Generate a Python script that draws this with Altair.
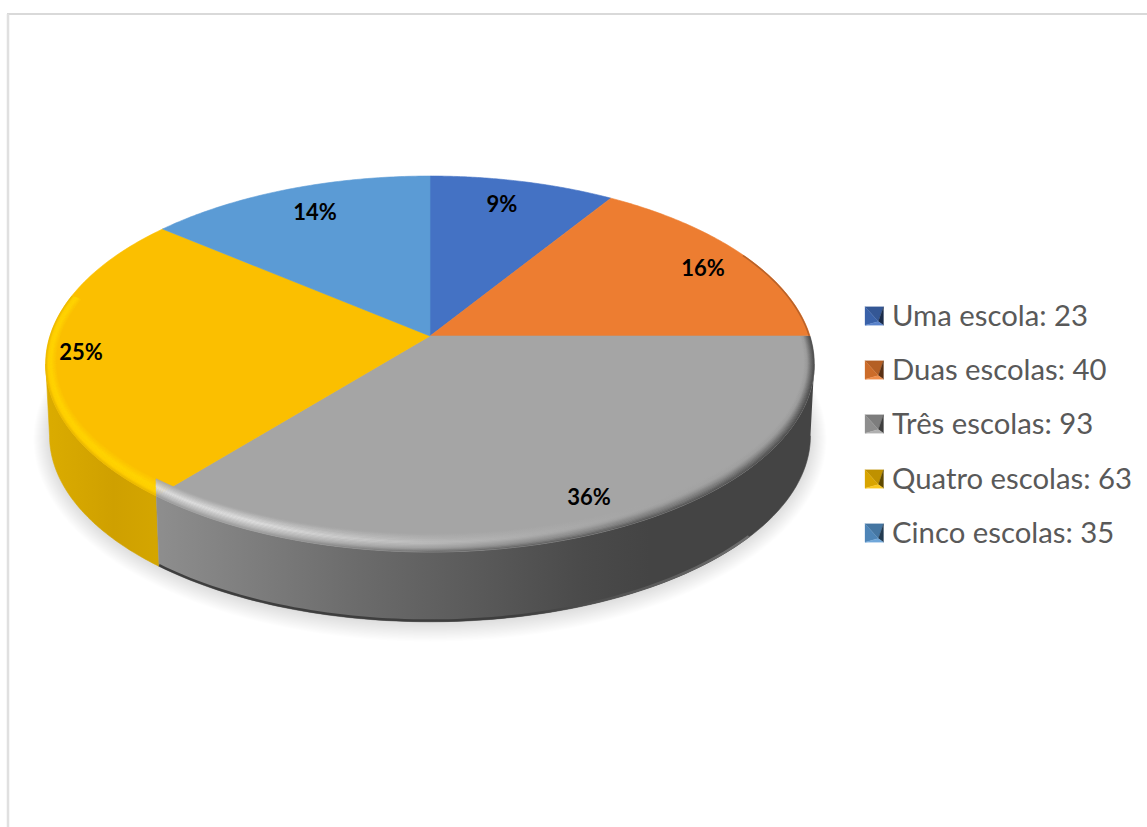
import altair as alt
import numpy as np
import pandas as pd

# Chart values
categories = ["Uma escola", "Duas escolas", "Três escolas", "Quatro escolas", "Cinco escolas"]
counts = [23, 40, 93, 63, 35]
percents = [9, 16, 36, 25, 14]
colors = ["#4472C4", "#ED7D31", "#A5A5A5", "#FBBF00", "#5B9BD5"]

# Perspective disc geometry
W, H = 1147, 827
CX, CY = 430.0, 336.0
RX, RY = 380.0, 183.8
TILT = 0.149
WALL = 72.0
BASE_SCALE = 0.99
# Angles at which the disc outline is widest
WIDEST = np.degrees(np.arccos(-TILT))

XS = alt.Scale(domain=[0, W], range=[0, W], nice=False, zero=False)
YS = alt.Scale(domain=[H, 0], range=[H, 0], nice=False, zero=False)


def rim(deg, sx=1.0, sy=1.0, drop=0.0, scale=1.0, grow=0.0):
    """Project a clockwise angle from 12 o'clock onto the tilted disc."""
    t = np.radians(np.asarray(deg, dtype=float))
    d = 1 + TILT * np.cos(t)
    x = CX + (RX * scale * sx * np.sin(t) + grow * np.sin(t)) / d
    y = CY + drop - (RY * scale * sy * np.cos(t) + grow * np.cos(t)) / d
    return x, y


def poly(xs, ys, fill, opacity=1.0, seam=0.6):
    df = pd.DataFrame({"px": xs, "py": ys})
    df["i"] = np.arange(len(df))
    kw = dict(fill=fill, fillOpacity=opacity, clip=False)
    if seam > 0:
        kw.update(stroke=fill, strokeWidth=seam)
    else:
        kw.update(stroke="transparent", strokeWidth=0)
    return alt.Chart(df).mark_line(**kw).encode(
        x=alt.X("px:Q", scale=XS, axis=None),
        y=alt.Y("py:Q", scale=YS, axis=None),
        order=alt.Order("i:Q"),
    )


def stroke_line(xs, ys, paint, width):
    df = pd.DataFrame({"px": xs, "py": ys})
    df["i"] = np.arange(len(df))
    return alt.Chart(df).mark_line(stroke=paint, strokeWidth=width, clip=False).encode(
        x=alt.X("px:Q", scale=XS, axis=None),
        y=alt.Y("py:Q", scale=YS, axis=None),
        order=alt.Order("i:Q"),
    )


def hgrad(stops):
    return alt.Gradient(
        gradient="linear", x1=0, x2=1, y1=0, y2=0,
        stops=[alt.GradientStop(offset=o, color=c) for o, c in stops],
    )


def mix(a, b, f):
    pa = [int(a[i:i + 2], 16) for i in (1, 3, 5)]
    pb = [int(b[i:i + 2], 16) for i in (1, 3, 5)]
    return "#" + "".join(f"{round(p + (q - p) * f):02x}" for p, q in zip(pa, pb))


def ramp(knots, v):
    for (v0, c0), (v1, c1) in zip(knots, knots[1:]):
        if v <= v1:
            return mix(c0, c1, (v - v0) / (v1 - v0))
    return knots[-1][1]


edges = np.concatenate([[0], np.cumsum(percents)]) * 3.6
layers = []

# Soft shadow under the disc
full = np.linspace(0, 360, 181)
for g in range(1, 17):
    sx_, sy_ = rim(full, drop=WALL, scale=BASE_SCALE, grow=g)
    layers.append(poly(sx_, sy_ + 1, "#000000", opacity=0.009, seam=0))

# Side wall of the yellow and grey slices, limited to the visible outline
wall_paint = {
    2: hgrad([(0, "#8E8E8E"), (0.3, "#6C6C6C"), (0.65, "#4A4A4A"), (0.75, "#444444"), (1, "#444444")]),
    3: hgrad([(0, "#DBAC00"), (0.6, "#CFA000"), (1, "#D4A600")]),
}
wall_span = {2: (WIDEST, edges[3]), 3: (edges[3], 360 - WIDEST)}
for idx in (3, 2):
    a = np.linspace(*wall_span[idx], 80)
    tx, ty = rim(a)
    bx, by = rim(a[::-1], drop=WALL, scale=BASE_SCALE)
    layers.append(poly(np.r_[tx, bx], np.r_[ty, by], wall_paint[idx]))

# Darker lip along the lower edge of the wall
a = np.linspace(edges[2] + 40, edges[3], 80)
lx, ly = rim(a, drop=WALL - 1.2, scale=BASE_SCALE)
layers.append(stroke_line(lx, ly, hgrad([(0, "#3E3E3E"), (0.6, "#3E3E3E"), (1, "#6E6E6E")]), 2.5))

# Flat top faces of the slices
for idx, color in enumerate(colors):
    a = np.linspace(edges[idx], edges[idx + 1], 80)
    tx, ty = rim(a)
    layers.append(poly(np.r_[CX, tx, CX], np.r_[CY, ty, CY], color))

# Bevelled edge along the front of the top faces
bevel_steps = 14
grey_left = [(0, "#A5A5A5"), (0.5, "#E0E0E0"), (0.8, "#BABABA"), (1, "#9A9A9A")]
grey_mid = [(0, "#A5A5A5"), (0.5, "#B8B8B8"), (0.8, "#9A9A9A"), (1, "#666666")]
grey_right = [(0, "#A5A5A5"), (0.35, "#9A9A9A"), (0.7, "#6A6A6A"), (1, "#444444")]
gold = [(0, "#FBBF00"), (0.5, "#FFD500"), (0.8, "#FFD000"), (1, "#E8B600")]

for idx, start, end in ((3, edges[3], 283.0), (2, edges[2], edges[3])):
    for k in range(bevel_steps):
        v0, v1 = k / bevel_steps, (k + 1) / bevel_steps
        vm = (v0 + v1) / 2
        # The grey bevel ends on a vertical seam against the yellow one
        stop = end + 1.6 * (1 - vm) if idx == 2 else end
        a = np.linspace(start, stop, 90)
        ix, iy = rim(a, sx=1 - 0.028 * (1 - v0), sy=1 - 0.085 * (1 - v0))
        ox, oy = rim(a[::-1], sx=1 - 0.028 * (1 - v1), sy=1 - 0.085 * (1 - v1))
        if idx == 2:
            paint = hgrad([
                (0.0, ramp(grey_left, vm)),
                (0.15, ramp(grey_left, vm)),
                (0.45, ramp(grey_mid, vm)),
                (1.0, ramp(grey_right, vm)),
            ])
        else:
            paint = ramp(gold, vm)
        layers.append(poly(np.r_[ix, ox], np.r_[iy, oy], paint, seam=0.4))

# Faint dark edge where the orange slice meets the right side
a = np.linspace(62, 90, 30)
ex, ey = rim(a, sx=0.998, sy=0.998)
layers.append(stroke_line(ex, ey, "#B8622A", 1.5))

# Percentage labels on the slices
label_x = [502, 703, 589, 81, 315]
label_y = [205, 269, 498, 353, 213]
label_df = pd.DataFrame({"px": label_x, "py": label_y, "t": [f"{p}%" for p in percents]})
layers.append(
    alt.Chart(label_df).mark_text(
        font="Lato", fontSize=22, fontWeight="bold", color="#000000", align="center", baseline="middle"
    ).encode(
        x=alt.X("px:Q", scale=XS, axis=None),
        y=alt.Y("py:Q", scale=YS, axis=None),
        text="t:N",
    )
)

# Legend: bevelled swatches and their captions
legend_y = [316, 370, 424, 479, 533]
SW_L, SW = 865, 18.5
for color, cy in zip(colors, legend_y):
    x0, x1, y0, y1 = SW_L, SW_L + SW, cy - SW / 2, cy + SW / 2
    mx, my = x0 + 0.72 * SW, y0 + 0.8 * SW
    layers.append(poly([x0, x1, mx, x0], [y0, y0, my, y0], mix(color, "#000000", 0.24), seam=0.3))
    layers.append(poly([x0, mx, x0, x0], [y0, my, y1, y0], mix(color, "#000000", 0.14), seam=0.3))
    layers.append(poly([x1, x1, mx, x1], [y0, y1, my, y0], mix(color, "#000000", 0.62), seam=0.3))
    layers.append(poly([x0, x1, mx, x0], [y1, y1, my, y1], mix(color, "#FFFFFF", 0.12), seam=0.3))

legend_df = pd.DataFrame({
    "px": [892] * 5,
    "py": [y + 1 for y in legend_y],
    "t": [f"{c}: {n}" for c, n in zip(categories, counts)],
})
layers.append(
    alt.Chart(legend_df).mark_text(
        font="Lato", fontSize=29.3, color="#595959", align="left", baseline="middle"
    ).encode(
        x=alt.X("px:Q", scale=XS, axis=None),
        y=alt.Y("py:Q", scale=YS, axis=None),
        text="t:N",
    )
)

# Chart frame
frame_df = pd.DataFrame({"a": [0]})
layers.append(
    alt.Chart(frame_df).mark_rule(color="#D9D9D9", strokeWidth=2).encode(
        x=alt.value(7), x2=alt.value(W), y=alt.value(14)
    )
)
layers.append(
    alt.Chart(frame_df).mark_rule(color="#E0E0E0", strokeWidth=2.5).encode(
        x=alt.value(8), y=alt.value(14), y2=alt.value(H)
    )
)

chart = (
    alt.layer(*layers)
    .properties(width=W, height=H, padding=0, autosize=alt.AutoSizeParams(type="none"), background="#FFFFFF")
    .configure_view(stroke=None)
)

chart.save("out.html", embed_options={"renderer": "svg", "actions": False})
